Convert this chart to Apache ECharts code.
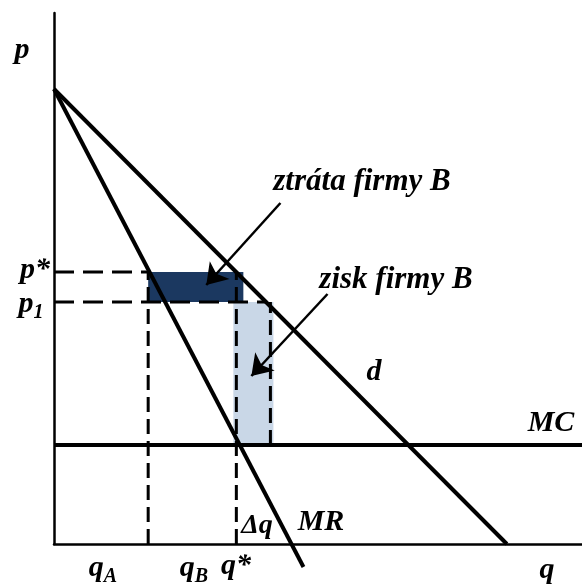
<!DOCTYPE html>
<html>
<head>
<meta charset="utf-8">
<script src="https://cdn.jsdelivr.net/npm/echarts@6/dist/echarts.min.js"></script>
<style>html,body{margin:0;padding:0;background:#fff;}#c{width:582px;height:584px;}</style>
</head>
<body>
<div id="c"></div>
<script>
// Schematic values (arbitrary units)
const demandLine = [[0, 455], [452, 0]];        // d
const mrLine = [[0, 455], [249, -23]];          // MR (runs slightly below q axis)
const mcLevel = 99;                              // MC
const pStar = 272, p1 = 242;                     // p*, p1
const qA = 94, qStar = 182, dAtP1 = 212, rightEdge = 216;
const lossRect = [94, 242, 189, 272];            // ztráta firmy B [x0,y0,x1,y1]
const gainRect = [179, 99, 219, 242];            // zisk firmy B
const lossArrow = [[226, 341], [152, 259]];
const gainArrow = [[273, 250], [197, 168]];
const xMax = 527, yMax = 531;

const font = '"Liberation Serif", "Times New Roman", serif';
const chart = echarts.init(document.getElementById('c'));

function rectSeries(r, color) {
  return {
    type: 'custom', silent: true, z: 1,
    renderItem: function (params, api) {
      const a = api.coord([r[0], r[3]]);
      const b = api.coord([r[2], r[1]]);
      return { type: 'rect', shape: { x: a[0], y: a[1], width: b[0] - a[0], height: b[1] - a[1] }, style: { fill: color } };
    },
    data: [0]
  };
}
function lineSeries(data, width, dash, z) {
  return {
    type: 'line', data: data, symbol: 'none', silent: true, clip: false, z: z || 3,
    lineStyle: { color: '#000', width: width, type: dash ? dash : 'solid', cap: 'butt' },
    animation: false
  };
}
function arrowSeries(seg) {
  return {
    type: 'lines', coordinateSystem: 'cartesian2d', silent: true, z: 6,
    symbol: ['none', 'arrow'], symbolSize: [0, 20],
    lineStyle: { color: '#000', width: 2.5, opacity: 1, curveness: 0 },
    data: [{ coords: seg }]
  };
}

chart.setOption({
  animation: false,
  grid: { left: 54, right: 0, top: 13, bottom: 40 },
  xAxis: { type: 'value', min: 0, max: xMax, axisLine: { show: true, onZero: false, lineStyle: { color: '#000', width: 2.5 } },
    axisTick: { show: false }, axisLabel: { show: false }, splitLine: { show: false } },
  yAxis: { type: 'value', min: 0, max: yMax, axisLine: { show: true, onZero: false, lineStyle: { color: '#000', width: 2.5 } },
    axisTick: { show: false }, axisLabel: { show: false }, splitLine: { show: false } },
  series: [
    rectSeries(lossRect, '#1b3860'),
    rectSeries(gainRect, '#c9d7e7'),
    lineSeries([[0, pStar], [qA, pStar]], 3, [20, 9], 2),
    lineSeries([[0, p1], [dAtP1, p1]], 3, [20, 9], 2),
    lineSeries([[qA, 0], [qA, pStar]], 3, [15, 7], 2),
    lineSeries([[qStar, 0], [qStar, pStar]], 3, [15, 7], 2),
    lineSeries([[rightEdge, mcLevel], [rightEdge, p1]], 3, [15, 7], 2),
    lineSeries(demandLine, 4),
    lineSeries(mrLine, 4),
    lineSeries([[0, mcLevel], [xMax, mcLevel]], 4),
    arrowSeries(lossArrow),
    arrowSeries(gainArrow)
  ]
});

// Text labels (pixel positions of the annotation texts)
const base = { fill: '#000', align: 'center', verticalAlign: 'middle' };
const rich = {
  m: { fontFamily: font, fontStyle: 'italic', fontWeight: 'bold', fontSize: 30, verticalAlign: 'bottom' },
  s: { fontFamily: font, fontStyle: 'italic', fontWeight: 'bold', fontSize: 20, verticalAlign: 'bottom', padding: [0, 0, -4, 0] }
};
function txt(x, y, text, size) {
  return { type: 'text', x: x, y: y, z: 10, style: Object.assign({}, base, { text: text, font: 'italic bold ' + (size || 30) + 'px ' + font }) };
}
function rtxt(x, y, text) {
  return { type: 'text', x: x, y: y, z: 10, style: { text: text, rich: rich, align: 'center', verticalAlign: 'middle', fill: '#000' } };
}
chart.setOption({
  graphic: [
    txt(22, 50, 'p'),
    txt(35, 270, 'p*'),
    rtxt(31, 304, '{m|p}{s|1}'),
    txt(362, 182, 'ztráta firmy B', 31),
    txt(396, 280, 'zisk firmy B', 31),
    txt(374, 372, 'd'),
    txt(551, 423, 'MC'),
    txt(321, 522, 'MR'),
    txt(257, 526, 'Δq', 28),
    rtxt(103, 568, '{m|q}{s|A}'),
    rtxt(194, 568, '{m|q}{s|B}'),
    txt(236, 566, 'q*'),
    txt(547, 570, 'q')
  ]
});
</script>
</body>
</html>
